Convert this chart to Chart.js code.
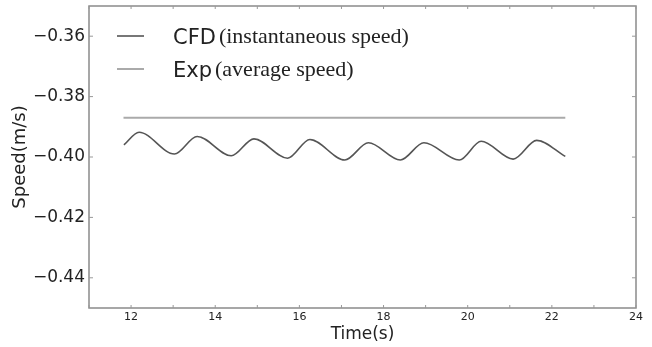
<!DOCTYPE html>
<html>
<head>
<meta charset="utf-8">
<script src="https://cdn.jsdelivr.net/npm/chart.js@4.4.1/dist/chart.umd.min.js"></script>
<style>
  html, body { margin: 0; padding: 0; background: #fff; }
  #wrap { width: 652px; height: 347px; }
</style>
</head>
<body>
<div id="wrap"><canvas id="speedChart"></canvas></div>
<script>
// values
const cfdTime  = [11.83, 12.19, 13.03, 13.57, 14.38, 14.92, 15.72, 16.25, 17.08, 17.64, 18.40, 18.96, 19.80, 20.32, 21.08, 21.64, 22.32];
const cfdSpeed = [-0.3960, -0.3918, -0.3990, -0.3932, -0.3996, -0.3940, -0.4004, -0.3942, -0.4010, -0.3953, -0.4010, -0.3953, -0.4010, -0.3948, -0.4007, -0.3945, -0.3998];
const expTime  = [11.82, 22.32];
const expSpeed = [-0.387, -0.387];

const xTicks = [12, 14, 16, 18, 20, 22, 24];
const yTicks = [-0.44, -0.42, -0.40, -0.38, -0.36];
const xMinor = [11, 12, 13, 14, 15, 16, 17, 18, 19, 20, 21, 22, 23, 24];

const legendNames = [["CFD", "(instantaneous speed)"], ["Exp", "(average speed)"]];

const toPoints = (xs, ys) => xs.map((x, i) => ({ x, y: ys[i] }));

// box frame, inward ticks and the two-font legend
const framePlugin = {
  id: "frame",
  afterDraw(chart) {
    const { ctx, chartArea: a, scales } = chart;
    ctx.save();
    ctx.strokeStyle = "#8a8a8a";
    ctx.lineWidth = 1.5;
    ctx.strokeRect(a.left, a.top, a.right - a.left, a.bottom - a.top);

    ctx.lineWidth = 1;
    ctx.strokeStyle = "#999";
    ctx.beginPath();
    xMinor.forEach(v => {
      const px = scales.x.getPixelForValue(v);
      ctx.moveTo(px, a.bottom); ctx.lineTo(px, a.bottom - 3);
      ctx.moveTo(px, a.top); ctx.lineTo(px, a.top + 3);
    });
    yTicks.forEach(v => {
      const py = scales.y.getPixelForValue(v);
      ctx.moveTo(a.left, py); ctx.lineTo(a.left + 4, py);
      ctx.moveTo(a.right, py); ctx.lineTo(a.right - 4, py);
    });
    ctx.stroke();

    // legend
    const lx = a.left + 28, rowY = [a.top + 30, a.top + 63];
    chart.data.datasets.forEach((ds, i) => {
      const y = rowY[i];
      ctx.strokeStyle = ds.borderColor;
      ctx.lineWidth = ds.borderWidth;
      ctx.beginPath();
      ctx.moveTo(lx, y); ctx.lineTo(lx + 27, y);
      ctx.stroke();

      ctx.fillStyle = "#222";
      ctx.textBaseline = "alphabetic";
      ctx.font = "21px 'DejaVu Sans'";
      const tx = lx + 56;
      ctx.fillText(legendNames[i][0], tx, y + 8);
      const w = ctx.measureText(legendNames[i][0]).width;
      ctx.font = "22px 'Liberation Serif'";
      ctx.fillText(legendNames[i][1], tx + w + 3, y + 7);
    });
    ctx.restore();
  }
};

new Chart(document.getElementById("speedChart"), {
  type: "line",
  data: {
    datasets: [
      {
        label: "CFD (instantaneous speed)",
        data: toPoints(cfdTime, cfdSpeed),
        borderColor: "#555555",
        borderWidth: 1.6,
        pointRadius: 0,
        cubicInterpolationMode: "monotone",
        fill: false
      },
      {
        label: "Exp (average speed)",
        data: toPoints(expTime, expSpeed),
        borderColor: "#aaaaaa",
        borderWidth: 2,
        pointRadius: 0,
        fill: false
      }
    ]
  },
  options: {
    responsive: true,
    maintainAspectRatio: false,
    animation: false,
    events: [],
    layout: { padding: { left: 0, right: 16, top: 6, bottom: 0 } },
    plugins: {
      legend: { display: false },
      tooltip: { enabled: false }
    },
    scales: {
      x: {
        type: "linear",
        min: 11,
        max: 24,
        grid: { display: false, drawTicks: false },
        border: { display: false },
        afterBuildTicks: s => { s.ticks = xTicks.map(v => ({ value: v })); },
        afterFit: s => { s.height = 39; s.paddingLeft = 0; s.paddingRight = 0; },
        ticks: {
          padding: 3,
          color: "#222",
          font: { family: "DejaVu Sans", size: 11 },
          callback: v => String(v)
        },
        title: {
          display: true,
          text: "Time(s)",
          color: "#222",
          font: { family: "DejaVu Sans", size: 17 },
          padding: { top: 0, bottom: 2 }
        }
      },
      y: {
        min: -0.45,
        max: -0.35,
        grid: { display: false, drawTicks: false },
        border: { display: false },
        afterBuildTicks: s => { s.ticks = yTicks.map(v => ({ value: v })); },
        afterFit: s => { s.width = 89; s.paddingTop = 0; s.paddingBottom = 0; },
        ticks: {
          padding: 4,
          color: "#222",
          font: { family: "DejaVu Sans", size: 17 },
          callback: v => "\u2212" + Math.abs(v).toFixed(2)
        },
        title: {
          display: true,
          text: "Speed(m/s)",
          color: "#222",
          font: { family: "DejaVu Sans", size: 18 },
          padding: { top: 10, bottom: 0 }
        }
      }
    }
  },
  plugins: [framePlugin]
});
</script>
</body>
</html>
